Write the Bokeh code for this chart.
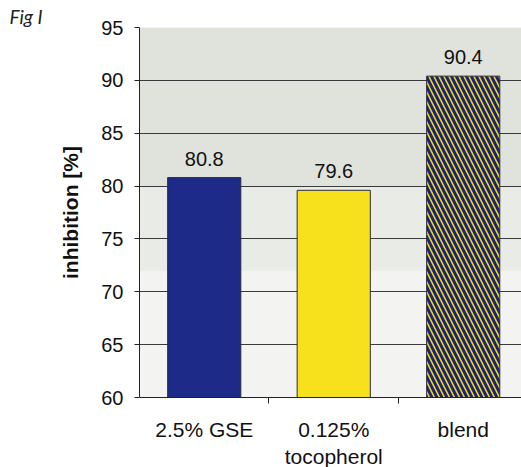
from bokeh.plotting import figure
from bokeh.models import FixedTicker, BoxAnnotation, ColumnDataSource
from bokeh.core.properties import value
from bokeh.embed import file_html
from bokeh.resources import INLINE

categories = ["2.5% GSE", "0.125%\ntocopherol", "blend"]
values = [80.8, 79.6, 90.4]
value_labels = ["80.8", "79.6", "90.4"]
fill_colors = ["#1e2a88", "#f6e11c", "#f2dc22"]
hatches = [" ", " ", "\\"]
y_ticks = [60, 65, 70, 75, 80, 85, 90, 95]

xs = [0.5, 1.5, 2.5]
src = ColumnDataSource(dict(x=xs, top=values, color=fill_colors, hatch=hatches,
                            lbl=value_labels))

p = figure(frame_width=382, frame_height=370, x_range=(0, 2.95), y_range=(60, 95),
           output_backend="svg", toolbar_location=None,
           min_border_left=139, min_border_top=27, min_border_bottom=60,
           min_border_right=0)
p.background_fill_color = "#f3f4f1"
p.border_fill_color = "white"
p.outline_line_color = None

p.title.text = "Fig I"
p.title.align = "left"
p.title.offset = -130
p.title.standoff = 0
p.title.text_font = "Lato"
p.title.text_font_style = "italic"
p.title.text_font_size = "19px"
p.title.text_font_style = "italic"
p.title.text_color = "#222222"

p.add_layout(BoxAnnotation(bottom=80, top=95, fill_color="#dfe3dc", fill_alpha=1.0,
                           line_color=None, level="image"))
p.add_layout(BoxAnnotation(bottom=72, top=80, fill_color="#e9ece6", fill_alpha=1.0,
                           line_color=None, level="image"))

p.vbar(x="x", top="top", bottom=60, width=0.565, source=src, fill_color="color",
       line_color="#2a2a40", line_width=1, hatch_pattern="hatch",
       hatch_color="#1c2470", hatch_scale=10, hatch_weight=3)

p.text(x="x", y="top", text="lbl", source=src, text_align="center",
       text_baseline="alphabetic", y_offset=-19, text_font=value("Liberation Sans"),
       text_font_size="20px", text_color="#111111")

# y axis
p.yaxis.ticker = FixedTicker(ticks=y_ticks)
p.yaxis.minor_tick_line_color = None
p.yaxis.major_tick_in = 0
p.yaxis.major_tick_out = 5
p.yaxis.major_tick_line_color = "#222222"
p.yaxis.axis_line_color = "#222222"
p.yaxis.major_label_standoff = 11
p.yaxis.major_label_text_font = "Liberation Sans"
p.yaxis.major_label_text_font_size = "20px"
p.yaxis.major_label_text_color = "#111111"
p.yaxis.axis_label = "inhibition [%]"
p.yaxis.axis_label_text_font = "Liberation Sans"
p.yaxis.axis_label_text_font_size = "21px"
p.yaxis.axis_label_text_font_style = "bold"
p.yaxis.axis_label_text_color = "#111111"
p.yaxis.axis_label_standoff = 16

# x axis
p.xaxis.ticker = FixedTicker(ticks=xs, minor_ticks=[1, 2])
p.xaxis.major_label_overrides = {x: c for x, c in zip(xs, categories)}
p.xaxis.major_tick_line_color = None
p.xaxis.minor_tick_in = 0
p.xaxis.minor_tick_out = 6
p.xaxis.minor_tick_line_color = "#222222"
p.xaxis.axis_line_color = "#222222"
p.xaxis.major_label_standoff = 14
p.xaxis.major_label_text_font = "Liberation Sans"
p.xaxis.major_label_text_font_size = "21px"
p.xaxis.major_label_text_color = "#111111"

p.xgrid.grid_line_color = None
p.ygrid.ticker = FixedTicker(ticks=y_ticks[1:-1])
p.ygrid.grid_line_color = "#3a3a3a"
p.ygrid.grid_line_width = 1

open("out.html", "w").write(file_html(p, INLINE))
